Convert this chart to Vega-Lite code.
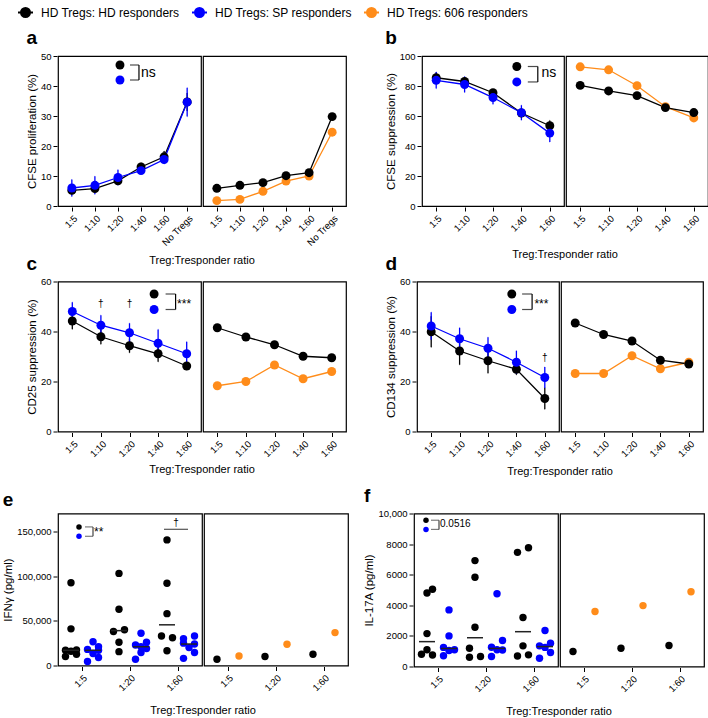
{
"$schema":"https://vega.github.io/schema/vega-lite/v6.json",
"padding":{"left":2,"top":4,"right":2,"bottom":2},
"datasets":{
"a":[
{"side":"L","r":"1:5","g":"HD","v":5.2,"e":1.3},{"side":"L","r":"1:10","g":"HD","v":5.8,"e":1.3},{"side":"L","r":"1:20","g":"HD","v":8.4,"e":1.2},{"side":"L","r":"1:40","g":"HD","v":13.0,"e":1.4},{"side":"L","r":"1:60","g":"HD","v":16.4,"e":1.9},{"side":"L","r":"No Tregs","g":"HD","v":34.7,"e":3.0},
{"side":"L","r":"1:5","g":"SP","v":6.0,"e":2.8},{"side":"L","r":"1:10","g":"SP","v":6.9,"e":3.0},{"side":"L","r":"1:20","g":"SP","v":9.5,"e":2.6},{"side":"L","r":"1:40","g":"SP","v":11.8,"e":1.0},{"side":"L","r":"1:60","g":"SP","v":15.5,"e":1.5},{"side":"L","r":"No Tregs","g":"SP","v":34.6,"e":4.8},
{"side":"R","r":"1:5","g":"606","v":1.8},{"side":"R","r":"1:10","g":"606","v":2.2},{"side":"R","r":"1:20","g":"606","v":4.9},{"side":"R","r":"1:40","g":"606","v":8.3},{"side":"R","r":"1:60","g":"606","v":10.0},{"side":"R","r":"No Tregs","g":"606","v":24.6},
{"side":"R","r":"1:5","g":"HD","v":5.9},{"side":"R","r":"1:10","g":"HD","v":6.9},{"side":"R","r":"1:20","g":"HD","v":7.8},{"side":"R","r":"1:40","g":"HD","v":10.1},{"side":"R","r":"1:60","g":"HD","v":11.1},{"side":"R","r":"No Tregs","g":"HD","v":29.8},
{"side":"L","k":"leg","r":"1:20","g":"HD","v":47},{"side":"L","k":"leg","r":"1:20","g":"SP","v":42},
{"side":"L","k":"br","r":"1:20","v":47},{"side":"L","k":"br","r":"1:20","v":42},
{"side":"L","k":"bv","r":"1:20","v":47,"v2":42},
{"side":"L","k":"tx","r":"1:20","v":44.5,"t":"ns"}],
"b":[
{"side":"L","r":"1:5","g":"HD","v":85.5,"e":3.5},{"side":"L","r":"1:10","g":"HD","v":83.0,"e":3.0},{"side":"L","r":"1:20","g":"HD","v":75.5,"e":2.0},{"side":"L","r":"1:40","g":"HD","v":62.0,"e":3.0},{"side":"L","r":"1:60","g":"HD","v":53.5,"e":3.5},
{"side":"L","r":"1:5","g":"SP","v":83.8,"e":5.5},{"side":"L","r":"1:10","g":"SP","v":81.0,"e":5.3},{"side":"L","r":"1:20","g":"SP","v":72.3,"e":4.5},{"side":"L","r":"1:40","g":"SP","v":62.2,"e":5.0},{"side":"L","r":"1:60","g":"SP","v":48.6,"e":6.0},
{"side":"R","r":"1:5","g":"606","v":92.8},{"side":"R","r":"1:10","g":"606","v":90.8},{"side":"R","r":"1:20","g":"606","v":80.2},{"side":"R","r":"1:40","g":"606","v":66.2},{"side":"R","r":"1:60","g":"606","v":58.7},
{"side":"R","r":"1:5","g":"HD","v":80.4},{"side":"R","r":"1:10","g":"HD","v":76.7},{"side":"R","r":"1:20","g":"HD","v":73.6},{"side":"R","r":"1:40","g":"HD","v":65.6},{"side":"R","r":"1:60","g":"HD","v":62.3},
{"side":"L","k":"leg","r":"1:40","g":"HD","v":93},{"side":"L","k":"leg","r":"1:40","g":"SP","v":82.7},
{"side":"L","k":"br","r":"1:40","v":93},{"side":"L","k":"br","r":"1:40","v":82.7},
{"side":"L","k":"bv","r":"1:40","v":93,"v2":82.7},
{"side":"L","k":"tx","r":"1:40","v":88.5,"t":"ns"}],
"c":[
{"side":"L","r":"1:5","g":"HD","v":44.2,"e":3.3},{"side":"L","r":"1:10","g":"HD","v":37.9,"e":3.0},{"side":"L","r":"1:20","g":"HD","v":34.3,"e":2.8},{"side":"L","r":"1:40","g":"HD","v":31.1,"e":3.2},{"side":"L","r":"1:60","g":"HD","v":26.2,"e":1.5},
{"side":"L","r":"1:5","g":"SP","v":48.0,"e":3.7},{"side":"L","r":"1:10","g":"SP","v":42.5,"e":4.0},{"side":"L","r":"1:20","g":"SP","v":39.5,"e":3.8},{"side":"L","r":"1:40","g":"SP","v":35.3,"e":5.5},{"side":"L","r":"1:60","g":"SP","v":31.1,"e":4.8},
{"side":"R","r":"1:5","g":"606","v":18.3},{"side":"R","r":"1:10","g":"606","v":20.0},{"side":"R","r":"1:20","g":"606","v":26.6},{"side":"R","r":"1:40","g":"606","v":21.1},{"side":"R","r":"1:60","g":"606","v":24.0},
{"side":"R","r":"1:5","g":"HD","v":41.5},{"side":"R","r":"1:10","g":"HD","v":37.8},{"side":"R","r":"1:20","g":"HD","v":34.7},{"side":"R","r":"1:40","g":"HD","v":30.1},{"side":"R","r":"1:60","g":"HD","v":29.5},
{"side":"L","k":"leg","r":"1:40","g":"HD","v":55},{"side":"L","k":"leg","r":"1:40","g":"SP","v":48.8},
{"side":"L","k":"br","r":"1:40","v":55},{"side":"L","k":"br","r":"1:40","v":48.8},
{"side":"L","k":"bv","r":"1:40","v":55,"v2":48.8},
{"side":"L","k":"tx","r":"1:40","v":51,"t":"***"},
{"side":"L","k":"dag","r":"1:10","v":51,"t":"†"},{"side":"L","k":"dag","r":"1:20","v":51,"t":"†"}],
"d":[
{"side":"L","r":"1:5","g":"HD","v":39.9,"e":6.2},{"side":"L","r":"1:10","g":"HD","v":32.2,"e":5.5},{"side":"L","r":"1:20","g":"HD","v":28.3,"e":5.0},{"side":"L","r":"1:40","g":"HD","v":24.9,"e":2.2},{"side":"L","r":"1:60","g":"HD","v":13.2,"e":4.3},
{"side":"L","r":"1:5","g":"SP","v":42.2,"e":5.5},{"side":"L","r":"1:10","g":"SP","v":37.1,"e":4.4},{"side":"L","r":"1:20","g":"SP","v":33.3,"e":4.4},{"side":"L","r":"1:40","g":"SP","v":27.7,"e":4.6},{"side":"L","r":"1:60","g":"SP","v":21.6,"e":4.2},
{"side":"R","r":"1:5","g":"606","v":23.2},{"side":"R","r":"1:10","g":"606","v":23.2},{"side":"R","r":"1:20","g":"606","v":30.3},{"side":"R","r":"1:40","g":"606","v":25.1},{"side":"R","r":"1:60","g":"606","v":27.7},
{"side":"R","r":"1:5","g":"HD","v":43.4},{"side":"R","r":"1:10","g":"HD","v":38.8},{"side":"R","r":"1:20","g":"HD","v":36.2},{"side":"R","r":"1:40","g":"HD","v":28.5},{"side":"R","r":"1:60","g":"HD","v":27.0},
{"side":"L","k":"leg","r":"1:40","g":"HD","v":55},{"side":"L","k":"leg","r":"1:40","g":"SP","v":48.8},
{"side":"L","k":"br","r":"1:40","v":55},{"side":"L","k":"br","r":"1:40","v":48.8},
{"side":"L","k":"bv","r":"1:40","v":55,"v2":48.8},
{"side":"L","k":"tx","r":"1:40","v":51,"t":"***"},
{"side":"L","k":"dag","r":"1:60","v":29.5,"t":"†"}],
"e":[
{"side":"L","r":"1:5","g":"HD","s":"HD","v":92500},{"side":"L","r":"1:5","g":"HD","s":"HD","v":41000},{"side":"L","r":"1:5","g":"HD","s":"H3","v":17500},{"side":"L","r":"1:5","g":"HD","s":"H1","v":17000},{"side":"L","r":"1:5","g":"HD","s":"HD","v":16000},{"side":"L","r":"1:5","g":"HD","s":"H3","v":12500},{"side":"L","r":"1:5","g":"HD","s":"H1","v":10000},
{"side":"L","r":"1:5","g":"SP","s":"SP","v":26500},{"side":"L","r":"1:5","g":"SP","s":"S3","v":21000},{"side":"L","r":"1:5","g":"SP","s":"S1","v":18000},{"side":"L","r":"1:5","g":"SP","s":"S3","v":17000},{"side":"L","r":"1:5","g":"SP","s":"SP","v":13500},{"side":"L","r":"1:5","g":"SP","s":"S3","v":9000},{"side":"L","r":"1:5","g":"SP","s":"S1","v":4500},
{"side":"L","r":"1:20","g":"HD","s":"HD","v":103000},{"side":"L","r":"1:20","g":"HD","s":"HD","v":63000},{"side":"L","r":"1:20","g":"HD","s":"H3","v":40000},{"side":"L","r":"1:20","g":"HD","s":"H1","v":38000},{"side":"L","r":"1:20","g":"HD","s":"HD","v":26000},{"side":"L","r":"1:20","g":"HD","s":"HD","v":15500},
{"side":"L","r":"1:20","g":"SP","s":"SP","v":36000},{"side":"L","r":"1:20","g":"SP","s":"S3","v":26000},{"side":"L","r":"1:20","g":"SP","s":"S1","v":23000},{"side":"L","r":"1:20","g":"SP","s":"SP","v":21000},{"side":"L","r":"1:20","g":"SP","s":"S3","v":19000},{"side":"L","r":"1:20","g":"SP","s":"SP","v":14500},{"side":"L","r":"1:20","g":"SP","s":"S1","v":7000},
{"side":"L","r":"1:60","g":"HD","s":"HD","v":140500},{"side":"L","r":"1:60","g":"HD","s":"HD","v":92000},{"side":"L","r":"1:60","g":"HD","s":"HD","v":58000},{"side":"L","r":"1:60","g":"HD","s":"H1","v":33000},{"side":"L","r":"1:60","g":"HD","s":"H3","v":31000},{"side":"L","r":"1:60","g":"HD","s":"HD","v":16500},
{"side":"L","r":"1:60","g":"SP","s":"S3","v":33000},{"side":"L","r":"1:60","g":"SP","s":"S1","v":30000},{"side":"L","r":"1:60","g":"SP","s":"S1","v":25000},{"side":"L","r":"1:60","g":"SP","s":"S3","v":24000},{"side":"L","r":"1:60","g":"SP","s":"SP","v":20000},{"side":"L","r":"1:60","g":"SP","s":"S3","v":14500},{"side":"L","r":"1:60","g":"SP","s":"S1","v":8000},
{"side":"R","r":"1:5","g":"HD","s":"HD","v":7000},{"side":"R","r":"1:5","g":"606","s":"SP","v":10700},{"side":"R","r":"1:20","g":"HD","s":"HD","v":10000},{"side":"R","r":"1:20","g":"606","s":"SP","v":23700},{"side":"R","r":"1:60","g":"HD","s":"HD","v":12600},{"side":"R","r":"1:60","g":"606","s":"SP","v":36800},
{"side":"L","k":"leg","r":"1:5","g":"HD","v":155000},{"side":"L","k":"leg","r":"1:5","g":"SP","v":144500},
{"side":"L","k":"br","r":"1:5","v":155000},{"side":"L","k":"br","r":"1:5","v":144500},
{"side":"L","k":"bv","r":"1:5","v":155000,"v2":144500},
{"side":"L","k":"tx","r":"1:5","v":149000,"t":"**"},
{"side":"L","k":"dl","r":"1:60","v":152300},
{"side":"L","k":"dag","r":"1:60","v":159000,"t":"†"}],
"f":[
{"side":"L","r":"1:5","g":"HD","s":"HD","v":4800},{"side":"L","r":"1:5","g":"HD","s":"H3","v":5050},{"side":"L","r":"1:5","g":"HD","s":"HD","v":2150},{"side":"L","r":"1:5","g":"HD","s":"HD","v":1100},{"side":"L","r":"1:5","g":"HD","s":"H1","v":800},{"side":"L","r":"1:5","g":"HD","s":"H3","v":750},
{"side":"L","r":"1:5","g":"SP","s":"SP","v":3700},{"side":"L","r":"1:5","g":"SP","s":"SP","v":2000},{"side":"L","r":"1:5","g":"SP","s":"S1","v":1250},{"side":"L","r":"1:5","g":"SP","s":"S3","v":1100},{"side":"L","r":"1:5","g":"SP","s":"SP","v":1050},{"side":"L","r":"1:5","g":"SP","s":"S1","v":700},
{"side":"L","r":"1:20","g":"HD","s":"HD","v":6920},{"side":"L","r":"1:20","g":"HD","s":"HD","v":5830},{"side":"L","r":"1:20","g":"HD","s":"HD","v":2570},{"side":"L","r":"1:20","g":"HD","s":"H1","v":1190},{"side":"L","r":"1:20","g":"HD","s":"H1","v":600},{"side":"L","r":"1:20","g":"HD","s":"H3","v":650},
{"side":"L","r":"1:20","g":"SP","s":"SP","v":4750},{"side":"L","r":"1:20","g":"SP","s":"S3","v":1700},{"side":"L","r":"1:20","g":"SP","s":"S1","v":1260},{"side":"L","r":"1:20","g":"SP","s":"S3","v":1080},{"side":"L","r":"1:20","g":"SP","s":"SP","v":1100},{"side":"L","r":"1:20","g":"SP","s":"S1","v":650},
{"side":"L","r":"1:60","g":"HD","s":"H1","v":7460},{"side":"L","r":"1:60","g":"HD","s":"H3","v":7760},{"side":"L","r":"1:60","g":"HD","s":"HD","v":3200},{"side":"L","r":"1:60","g":"HD","s":"HD","v":1350},{"side":"L","r":"1:60","g":"HD","s":"H1","v":690},{"side":"L","r":"1:60","g":"HD","s":"H3","v":760},
{"side":"L","r":"1:60","g":"SP","s":"SP","v":2350},{"side":"L","r":"1:60","g":"SP","s":"S1","v":1350},{"side":"L","r":"1:60","g":"SP","s":"S3","v":1520},{"side":"L","r":"1:60","g":"SP","s":"S3","v":910},{"side":"L","r":"1:60","g":"SP","s":"S1","v":540},{"side":"L","r":"1:60","g":"SP","s":"SP","v":1250},
{"side":"R","r":"1:5","g":"HD","s":"HD","v":980},{"side":"R","r":"1:5","g":"606","s":"SP","v":3590},{"side":"R","r":"1:20","g":"HD","s":"HD","v":1190},{"side":"R","r":"1:20","g":"606","s":"SP","v":3980},{"side":"R","r":"1:60","g":"HD","s":"HD","v":1370},{"side":"R","r":"1:60","g":"606","s":"SP","v":4890},
{"side":"L","k":"leg","r":"1:5","g":"HD","v":9560},{"side":"L","k":"leg","r":"1:5","g":"SP","v":8960},
{"side":"L","k":"br","r":"1:5","v":9560},{"side":"L","k":"br","r":"1:5","v":8960},
{"side":"L","k":"bv","r":"1:5","v":9560,"v2":8960},
{"side":"L","k":"tx","r":"1:5","v":9330,"t":"0.0516"}]
},
"config":{
"font":"Liberation Sans",
"view":{"stroke":"black","strokeWidth":1.2},
"axis":{"labelFont":"Liberation Sans","titleFont":"Liberation Sans","labelFontSize":9.5,"titleFontSize":11.5,"titleFontWeight":"normal","labelColor":"black","titleColor":"black","tickColor":"black","domain":false,"grid":false,"tickSize":4,"labelPadding":2,"titlePadding":3},
"axisX":{"labelAngle":-45},
"header":{"labels":false,"titleOrient":"bottom","titleFont":"Liberation Sans","titleFontSize":11,"titleFontWeight":"normal","titleColor":"black","titlePadding":-8},
"title":{"font":"Liberation Sans","color":"black","fontSize":19,"fontWeight":"bold","anchor":"start","offset":3},
"legend":{"orient":"none","legendX":-41,"legendY":-52,"direction":"horizontal","labelFont":"Liberation Sans","labelFontSize":12,"labelColor":"black","labelLimit":400,"symbolType":"M-1,0H1M0.6,0A0.6,0.6,0,1,1,-0.6,0A0.6,0.6,0,1,1,0.6,0Z","symbolSize":225,"symbolStrokeWidth":2,"columnPadding":8,"labelOffset":7}
},
"spacing":9.5,
"vconcat":[
{"spacing":-11.5,"vconcat":[
{"spacing":38,"hconcat":[
{"title":"a","data":{"name":"a"},"spacing":0,
"facet":{"column":{"field":"side","type":"nominal","sort":["L","R"],"title":"Treg:Tresponder ratio","header":{"labels":false,"titleFontWeight":"normal","titlePadding":-3}}},
"spec":{"width":143,"height":150,
"encoding":{
"x":{"field":"r","type":"ordinal","title":null,"sort":["1:5","1:10","1:20","1:40","1:60","No Tregs"],"scale":{"type":"point","domain":["1:5","1:10","1:20","1:40","1:60","No Tregs"],"padding":0.6}},
"y":{"field":"v","type":"quantitative","scale":{"domain":[0,50]},"axis":{"title":"CFSE proliferation (%)","values":[0,10,20,30,40,50]}},
"color":{"field":"g","type":"nominal","scale":{"domain":["HD","SP","606"],"range":["#000000","#0000ff","#ff8c1a"]},"legend":{"title":null,"labelExpr":"datum.value == 'HD' ? 'HD Tregs: HD responders' : datum.value == 'SP' ? 'HD Tregs: SP responders' : 'HD Tregs: 606 responders'","encode":{"symbols":{"update":{"fill":{"scale":"color","field":"value"},"stroke":{"scale":"color","field":"value"}}}}}}},
"layer":[
{"transform":[{"filter":"!datum.k && datum.side == 'L'"}],"mark":{"type":"errorbar","ticks":true,"thickness":1.3},"encoding":{"yError":{"field":"e"}}},
{"transform":[{"filter":"!datum.k"}],"mark":{"type":"line","strokeWidth":1.3}},
{"transform":[{"filter":"!datum.k"}],"mark":{"type":"point","filled":true,"size":80,"opacity":1}},
{"transform":[{"filter":"datum.k == 'leg'"}],"mark":{"type":"point","filled":true,"size":80,"opacity":1,"xOffset":2}},
{"transform":[{"filter":"datum.k == 'br'"}],"mark":{"type":"tick","orient":"horizontal","size":9,"thickness":1.2,"xOffset":16.5},"encoding":{"color":{"value":"black"}}},
{"transform":[{"filter":"datum.k == 'bv'"}],"mark":{"type":"rule","strokeWidth":1.2,"xOffset":21},"encoding":{"y2":{"field":"v2"},"color":{"value":"black"}}},
{"transform":[{"filter":"datum.k == 'tx'"}],"mark":{"type":"text","align":"left","baseline":"middle","dx":23,"fontSize":14},"encoding":{"text":{"field":"t"},"color":{"value":"black"}}}
]}},
{"title":"b","data":{"name":"b"},"spacing":0,
"facet":{"column":{"field":"side","type":"nominal","sort":["L","R"],"title":"Treg:Tresponder ratio","header":{"labels":false,"titleFontWeight":"normal","titlePadding":6}}},
"spec":{"width":142,"height":150,
"encoding":{
"x":{"field":"r","type":"ordinal","title":null,"sort":["1:5","1:10","1:20","1:40","1:60"],"scale":{"type":"point","domain":["1:5","1:10","1:20","1:40","1:60"],"padding":0.5}},
"y":{"field":"v","type":"quantitative","scale":{"domain":[0,100]},"axis":{"title":"CFSE suppression  (%)","values":[0,20,40,60,80,100]}},
"color":{"field":"g","type":"nominal","scale":{"domain":["HD","SP","606"],"range":["#000000","#0000ff","#ff8c1a"]},"legend":{"title":null,"labelExpr":"datum.value == 'HD' ? 'HD Tregs: HD responders' : datum.value == 'SP' ? 'HD Tregs: SP responders' : 'HD Tregs: 606 responders'","encode":{"symbols":{"update":{"fill":{"scale":"color","field":"value"},"stroke":{"scale":"color","field":"value"}}}}}}},
"layer":[
{"transform":[{"filter":"!datum.k && datum.side == 'L'"}],"mark":{"type":"errorbar","ticks":true,"thickness":1.3},"encoding":{"yError":{"field":"e"}}},
{"transform":[{"filter":"!datum.k"}],"mark":{"type":"line","strokeWidth":1.3}},
{"transform":[{"filter":"!datum.k"}],"mark":{"type":"point","filled":true,"size":80,"opacity":1}},
{"transform":[{"filter":"datum.k == 'leg'"}],"mark":{"type":"point","filled":true,"size":80,"opacity":1,"xOffset":-4.6}},
{"transform":[{"filter":"datum.k == 'br'"}],"mark":{"type":"tick","orient":"horizontal","size":10,"thickness":1.2,"xOffset":11.4},"encoding":{"color":{"value":"black"}}},
{"transform":[{"filter":"datum.k == 'bv'"}],"mark":{"type":"rule","strokeWidth":1.2,"xOffset":16.4},"encoding":{"y2":{"field":"v2"},"color":{"value":"black"}}},
{"transform":[{"filter":"datum.k == 'tx'"}],"mark":{"type":"text","align":"left","baseline":"middle","dx":20,"fontSize":14},"encoding":{"text":{"field":"t"},"color":{"value":"black"}}}
]}}
]},
{"spacing":38,"hconcat":[
{"title":"c","data":{"name":"c"},"spacing":0,
"facet":{"column":{"field":"side","type":"nominal","sort":["L","R"],"title":"Treg:Tresponder ratio","header":{"labels":false,"titleFontWeight":"normal","titlePadding":-5}}},
"spec":{"width":143,"height":150,
"encoding":{
"x":{"field":"r","type":"ordinal","title":null,"sort":["1:5","1:10","1:20","1:40","1:60"],"scale":{"type":"point","domain":["1:5","1:10","1:20","1:40","1:60"],"padding":0.5}},
"y":{"field":"v","type":"quantitative","scale":{"domain":[0,60]},"axis":{"title":"CD25 suppression (%)","values":[0,20,40,60]}},
"color":{"field":"g","type":"nominal","scale":{"domain":["HD","SP","606"],"range":["#000000","#0000ff","#ff8c1a"]},"legend":{"title":null,"labelExpr":"datum.value == 'HD' ? 'HD Tregs: HD responders' : datum.value == 'SP' ? 'HD Tregs: SP responders' : 'HD Tregs: 606 responders'","encode":{"symbols":{"update":{"fill":{"scale":"color","field":"value"},"stroke":{"scale":"color","field":"value"}}}}}}},
"layer":[
{"transform":[{"filter":"!datum.k && datum.side == 'L'"}],"mark":{"type":"errorbar","ticks":true,"thickness":1.3},"encoding":{"yError":{"field":"e"}}},
{"transform":[{"filter":"!datum.k"}],"mark":{"type":"line","strokeWidth":1.3}},
{"transform":[{"filter":"!datum.k"}],"mark":{"type":"point","filled":true,"size":80,"opacity":1}},
{"transform":[{"filter":"datum.k == 'leg'"}],"mark":{"type":"point","filled":true,"size":80,"opacity":1,"xOffset":-4}},
{"transform":[{"filter":"datum.k == 'br'"}],"mark":{"type":"tick","orient":"horizontal","size":10,"thickness":1.2,"xOffset":12.5},"encoding":{"color":{"value":"black"}}},
{"transform":[{"filter":"datum.k == 'bv'"}],"mark":{"type":"rule","strokeWidth":1.2,"xOffset":17.5},"encoding":{"y2":{"field":"v2"},"color":{"value":"black"}}},
{"transform":[{"filter":"datum.k == 'tx'"}],"mark":{"type":"text","align":"left","baseline":"middle","dx":19,"fontSize":12},"encoding":{"text":{"field":"t"},"color":{"value":"black"}}},
{"transform":[{"filter":"datum.k == 'dag'"}],"mark":{"type":"text","align":"center","baseline":"middle","fontSize":10},"encoding":{"text":{"field":"t"},"color":{"value":"black"}}}
]}},
{"title":"d","data":{"name":"d"},"spacing":0,
"facet":{"column":{"field":"side","type":"nominal","sort":["L","R"],"title":"Treg:Tresponder ratio","header":{"labels":false,"titleFontWeight":"normal","titlePadding":-3}}},
"spec":{"width":142,"height":150,
"encoding":{
"x":{"field":"r","type":"ordinal","title":null,"sort":["1:5","1:10","1:20","1:40","1:60"],"scale":{"type":"point","domain":["1:5","1:10","1:20","1:40","1:60"],"padding":0.5}},
"y":{"field":"v","type":"quantitative","scale":{"domain":[0,60]},"axis":{"title":"CD134 suppression (%)","values":[0,20,40,60]}},
"color":{"field":"g","type":"nominal","scale":{"domain":["HD","SP","606"],"range":["#000000","#0000ff","#ff8c1a"]},"legend":{"title":null,"labelExpr":"datum.value == 'HD' ? 'HD Tregs: HD responders' : datum.value == 'SP' ? 'HD Tregs: SP responders' : 'HD Tregs: 606 responders'","encode":{"symbols":{"update":{"fill":{"scale":"color","field":"value"},"stroke":{"scale":"color","field":"value"}}}}}}},
"layer":[
{"transform":[{"filter":"!datum.k && datum.side == 'L'"}],"mark":{"type":"errorbar","ticks":true,"thickness":1.3},"encoding":{"yError":{"field":"e"}}},
{"transform":[{"filter":"!datum.k"}],"mark":{"type":"line","strokeWidth":1.3}},
{"transform":[{"filter":"!datum.k"}],"mark":{"type":"point","filled":true,"size":80,"opacity":1}},
{"transform":[{"filter":"datum.k == 'leg'"}],"mark":{"type":"point","filled":true,"size":80,"opacity":1,"xOffset":-4.6}},
{"transform":[{"filter":"datum.k == 'br'"}],"mark":{"type":"tick","orient":"horizontal","size":10,"thickness":1.2,"xOffset":10.7},"encoding":{"color":{"value":"black"}}},
{"transform":[{"filter":"datum.k == 'bv'"}],"mark":{"type":"rule","strokeWidth":1.2,"xOffset":15.7},"encoding":{"y2":{"field":"v2"},"color":{"value":"black"}}},
{"transform":[{"filter":"datum.k == 'tx'"}],"mark":{"type":"text","align":"left","baseline":"middle","dx":18,"fontSize":12},"encoding":{"text":{"field":"t"},"color":{"value":"black"}}},
{"transform":[{"filter":"datum.k == 'dag'"}],"mark":{"type":"text","align":"center","baseline":"middle","fontSize":10},"encoding":{"text":{"field":"t"},"color":{"value":"black"}}}
]}}
]}
]},
{"spacing":14,"hconcat":[
{"title":"e","data":{"name":"e"},"spacing":0,
"facet":{"column":{"field":"side","type":"nominal","sort":["L","R"],"title":"Treg:Tresponder ratio","header":{"labels":false,"titleFontWeight":"normal","titlePadding":2}}},
"spec":{"width":144,"height":152,
"encoding":{
"x":{"field":"r","type":"nominal","title":null,"sort":["1:5","1:20","1:60"],"scale":{"type":"band","domain":["1:5","1:20","1:60"],"paddingInner":0,"paddingOuter":0}},
"y":{"field":"v","type":"quantitative","scale":{"domain":[0,170000]},"axis":{"title":"IFNγ (pg/ml)","values":[0,50000,100000,150000],"labelExpr":"format(datum.value, ',')"}},
"color":{"field":"g","type":"nominal","scale":{"domain":["HD","SP","606"],"range":["#000000","#0000ff","#ff8c1a"]},"legend":{"title":null,"labelExpr":"datum.value == 'HD' ? 'HD Tregs: HD responders' : datum.value == 'SP' ? 'HD Tregs: SP responders' : 'HD Tregs: 606 responders'","encode":{"symbols":{"update":{"fill":{"scale":"color","field":"value"},"stroke":{"scale":"color","field":"value"}}}}}}},
"layer":[
{"transform":[{"filter":"!datum.k"}],"mark":{"type":"point","filled":true,"size":55,"opacity":1},"encoding":{"xOffset":{"field":"s","type":"nominal","scale":{"domain":["H1","HD","H3","G","S1","SP","S3"],"paddingInner":0,"paddingOuter":0.86}}}},
{"transform":[{"filter":"!datum.k && datum.side == 'L'"}],"mark":{"type":"tick","orient":"horizontal","size":16,"thickness":1.5},"encoding":{"xOffset":{"field":"g","type":"nominal","scale":{"domain":["H1","HD","H3","G","S1","SP","S3"],"paddingInner":0,"paddingOuter":0.86}},"y":{"aggregate":"median","field":"v","type":"quantitative"},"color":{"value":"#222222"}}},
{"transform":[{"filter":"datum.k == 'leg'"}],"mark":{"type":"point","filled":true,"size":30,"opacity":1,"xOffset":-3}},
{"transform":[{"filter":"datum.k == 'br'"}],"mark":{"type":"tick","orient":"horizontal","size":8,"thickness":1.2,"xOffset":7},"encoding":{"color":{"value":"#444444"}}},
{"transform":[{"filter":"datum.k == 'bv'"}],"mark":{"type":"rule","strokeWidth":1.2,"xOffset":11},"encoding":{"y2":{"field":"v2"},"color":{"value":"#444444"}}},
{"transform":[{"filter":"datum.k == 'tx'"}],"mark":{"type":"text","align":"left","baseline":"middle","dx":12,"fontSize":12},"encoding":{"text":{"field":"t"},"color":{"value":"black"}}},
{"transform":[{"filter":"datum.k == 'dl'"}],"mark":{"type":"tick","orient":"horizontal","size":24,"thickness":1.3,"xOffset":-2},"encoding":{"color":{"value":"#222222"}}},
{"transform":[{"filter":"datum.k == 'dag'"}],"mark":{"type":"text","align":"center","baseline":"middle","dx":-2,"fontSize":10},"encoding":{"text":{"field":"t"},"color":{"value":"black"}}}
]}},
{"title":"f","data":{"name":"f"},"spacing":0,
"facet":{"column":{"field":"side","type":"nominal","sort":["L","R"],"title":"Treg:Tresponder ratio","header":{"labels":false,"titleFontWeight":"normal","titlePadding":2}}},
"spec":{"width":144,"height":153,
"encoding":{
"x":{"field":"r","type":"nominal","title":null,"sort":["1:5","1:20","1:60"],"scale":{"type":"band","domain":["1:5","1:20","1:60"],"paddingInner":0,"paddingOuter":0}},
"y":{"field":"v","type":"quantitative","scale":{"domain":[0,10000]},"axis":{"title":"IL-17A (pg/ml)","values":[0,2000,4000,6000,8000,10000],"labelExpr":"datum.value >= 10000 ? format(datum.value, ',') : format(datum.value, 'd')"}},
"color":{"field":"g","type":"nominal","scale":{"domain":["HD","SP","606"],"range":["#000000","#0000ff","#ff8c1a"]},"legend":{"title":null,"labelExpr":"datum.value == 'HD' ? 'HD Tregs: HD responders' : datum.value == 'SP' ? 'HD Tregs: SP responders' : 'HD Tregs: 606 responders'","encode":{"symbols":{"update":{"fill":{"scale":"color","field":"value"},"stroke":{"scale":"color","field":"value"}}}}}}},
"layer":[
{"transform":[{"filter":"!datum.k"}],"mark":{"type":"point","filled":true,"size":55,"opacity":1},"encoding":{"xOffset":{"field":"s","type":"nominal","scale":{"domain":["H1","HD","H3","G","S1","SP","S3"],"paddingInner":0,"paddingOuter":0.86}}}},
{"transform":[{"filter":"!datum.k && datum.side == 'L'"}],"mark":{"type":"tick","orient":"horizontal","size":16,"thickness":1.5},"encoding":{"xOffset":{"field":"g","type":"nominal","scale":{"domain":["H1","HD","H3","G","S1","SP","S3"],"paddingInner":0,"paddingOuter":0.86}},"y":{"aggregate":"median","field":"v","type":"quantitative"},"color":{"value":"#222222"}}},
{"transform":[{"filter":"datum.k == 'leg'"}],"mark":{"type":"point","filled":true,"size":30,"opacity":1,"xOffset":-12}},
{"transform":[{"filter":"datum.k == 'br'"}],"mark":{"type":"tick","orient":"horizontal","size":8,"thickness":1.2,"xOffset":-3},"encoding":{"color":{"value":"#444444"}}},
{"transform":[{"filter":"datum.k == 'bv'"}],"mark":{"type":"rule","strokeWidth":1.2,"xOffset":1},"encoding":{"y2":{"field":"v2"},"color":{"value":"#444444"}}},
{"transform":[{"filter":"datum.k == 'tx'"}],"mark":{"type":"text","align":"left","baseline":"middle","dx":2,"fontSize":10},"encoding":{"text":{"field":"t"},"color":{"value":"black"}}}
]}}
]}
]
}
